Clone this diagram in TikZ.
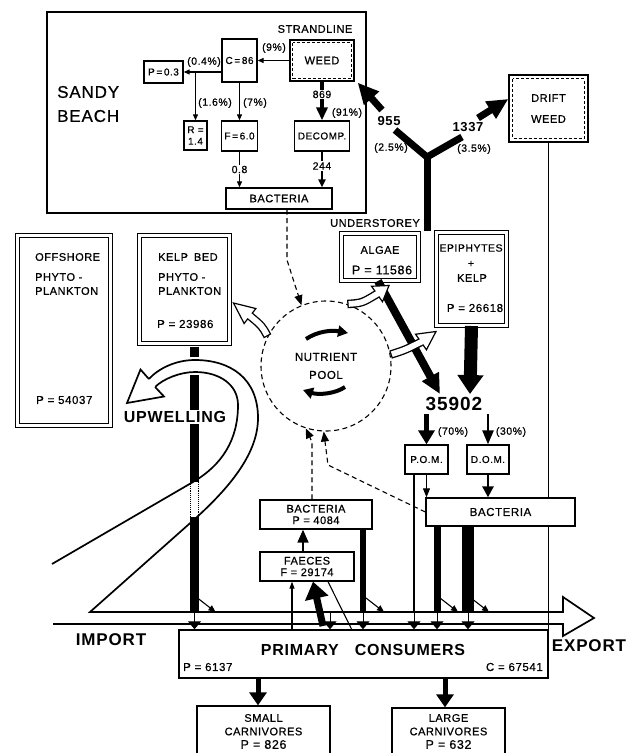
\documentclass[tikz,border=0pt]{standalone}
\usepackage{fontspec}
\setmainfont{Liberation Sans}[LetterSpace=5.0, UprightFeatures={FakeBold=0.6}]
\usetikzlibrary{arrows.meta,calc}
\newcommand{\fz}[2]{\fontsize{#1}{#2}\selectfont}
\newcommand{\hollowarr}[4]{%
  \draw[line width=8.5pt] (#1) .. controls (#2) .. (#3);
  \draw[white, line width=5.8pt, shorten <=1.3pt] (#1) .. controls (#2) .. (#3);
  \filldraw[fill=white, draw=black, line width=1.2pt] ($(#3)!9.5pt!90:(#4)$) -- (#4) -- ($(#3)!9.5pt!-90:(#4)$) -- cycle;
  \draw[white, line width=5.8pt] ($(#3)!-1.5pt!(#4)$) -- ($(#3)!1.5pt!(#4)$);
}
\begin{document}
\begin{tikzpicture}[x=1pt,y=-1pt,
  thinln/.style={line width=1.1pt},
  dsh/.style={dash pattern=on 5pt off 3.5pt},
  box/.style={draw, line width=1.3pt, inner sep=0pt, align=center, font=\fz{10}{11.5}},
  dbox/.style={draw, double, double distance=3.2pt, line width=1pt, inner sep=0pt},
  txt/.style={inner sep=0pt, align=left, font=\fz{11}{14}},
  ctxt/.style={inner sep=0pt, align=center, font=\fz{11}{14}},
  lbl/.style={inner sep=1pt, font=\fz{10.5}{12}},
  sarr/.style={thinln, -{Triangle[length=6pt,width=5pt]}},
  darr/.style={thinln, dsh, -{Triangle[length=10pt,width=8pt]}},
  yarr/.style={line width=7pt, -{Triangle[length=21pt,width=19pt]}},
  pcarr/.style={line width=5pt, -{Triangle[length=13pt,width=17pt]}},
  vtip/.style={line width=1pt, -{Triangle[length=8pt,width=13pt]}},
  dtip/.style={line width=1.1pt, -{Triangle[length=7pt,width=6pt]}},
  flowln/.style={line width=1.7pt},
  bigtxt/.style={inner sep=1pt, font=\bfseries\fz{17}{20}},
]
\useasboundingbox (0,0) rectangle (639,753);
\clip (0,0) rectangle (639,753);
\fill[white] (0,0) rectangle (639,753);

% ---------------- Sandy beach
\node[draw, line width=1.4pt, minimum width=319pt, minimum height=201pt, inner sep=0pt] (beach) at (206.5,112.5) {};
\node[txt, font=\fz{17}{24}, anchor=west] (sandy) at (57,104) {SANDY\\BEACH};
\node[inner sep=0pt, font=\fz{11}{13}] (strand) at (315,29) {STRANDLINE};
\node[box, minimum width=64pt, minimum height=41pt, font=\fz{11}{13}] (weed) at (322,60.5) {WEED};
\draw[thinln, dash pattern=on 3pt off 2pt] ([shift={(3.5pt,-3.5pt)}]weed.north west) rectangle ([shift={(-3.5pt,3.5pt)}]weed.south east);
\node[box, minimum width=35pt, minimum height=43pt] (c86) at (239.5,60.5) {C\,=\,86};
\node[box, minimum width=39pt, minimum height=22pt] (p03) at (163.5,72) {P\,=\,0.3};
\node[box, minimum width=23pt, minimum height=29pt] (r14) at (195.5,135.5) {R =\\1.4};
\node[box, minimum width=36pt, minimum height=30pt] (f60) at (239.5,136) {F\,=\,6.0};
\node[box, minimum width=55pt, minimum height=30pt] (decomp) at (322,136) {DECOMP.};
\node[box, minimum width=106pt, minimum height=21pt, font=\fz{11}{13}] (sbact) at (279,198.5) {BACTERIA};

\draw[sarr] (weed.west) -- (c86.east);
\node[lbl] (l9) at (274,48) {(9\%)};
\draw[sarr] (c86.west |- p03.east) -- (p03.east);
\node[lbl] (l04) at (204,62) {(0.4\%)};
\coordinate (br) at (r14.north |- p03.east);
\draw[sarr] (br) -- (r14.north);
\node[lbl] (l16) at (215,103) {(1.6\%)};
\draw[sarr] (c86.south) -- (f60.north);
\node[lbl] (l7) at (255,103) {(7\%)};
\draw[sarr] (f60.south) -- node[lbl, fill=white] (l08) {0.8} (f60.south |- sbact.north);
\draw[line width=3.5pt, -{Triangle[length=13pt,width=11pt]}] (weed.south) -- node[lbl, fill=white, pos=0.33] (l869) {869} (decomp.north);
\node[lbl] (l91) at (347,113) {(91\%)};
\draw[line width=2.5pt, -{Triangle[length=8pt,width=7pt]}] (decomp.south) -- node[lbl, fill=white, pos=0.4] (l244) {244} (decomp.south |- sbact.north);

% ---------------- Drift weed and Y
\node[box, minimum width=79pt, minimum height=67pt, font=\fz{11}{21}] (drift) at (548.5,108.5) {DRIFT\\WEED};
\draw[thinln, dash pattern=on 3pt off 2pt] ([shift={(4.5pt,-4.5pt)}]drift.north west) rectangle ([shift={(-4.5pt,4.5pt)}]drift.south east);

\coordinate (ystem) at (427,231);
\coordinate (fork) at (427,157);
\coordinate (yl) at (395,130);
\coordinate (yr) at (462,137);
\coordinate (yla) at (382,110);
\coordinate (yra) at (478,118);
\coordinate (tl) at ([xshift=3pt,yshift=-1pt]weed.south east);
\coordinate (tr) at ([yshift=9.5pt]drift.west);
\draw[line width=7pt] (ystem) -- (fork);
\draw[line width=7pt, line join=miter] (yl) -- (fork) -- (yr);
\draw[yarr] (yla) -- (tl);
\draw[yarr] (yra) -- (tr);
\node[inner sep=0pt, font=\bfseries\fz{13}{15}] (l955) at (389,121) {955};
\node[inner sep=0pt, font=\bfseries\fz{13}{15}] (l1337) at (468,127) {1337};
\node[lbl] (l25) at (391,148) {(2.5\%)};
\node[lbl] (l35) at (474,149) {(3.5\%)};

% ---------------- producers
\node[dbox, minimum width=93pt, minimum height=190pt] (off) at (64,330.5) {};
\node[txt, anchor=west] (off1) at (35,257) {OFFSHORE};
\node[txt, anchor=west] (off2) at (35,284) {PHYTO -\\PLANKTON};
\node[txt, anchor=west, font=\fz{11.5}{13}] (off3) at (36,400) {P = 54037};

\node[dbox, minimum width=90pt, minimum height=108pt] (kelp) at (184.5,289.5) {};
\node[txt, anchor=west] (kel1) at (158,257) {KELP\hspace{6pt}BED};
\node[txt, anchor=west] (kel2) at (158,284) {PHYTO -\\PLANKTON};
\node[txt, anchor=west, font=\fz{11.5}{13}] (kel3) at (157,324) {P = 23986};

\node[inner sep=0pt, font=\fz{11}{13}] (under) at (375,223) {UNDERSTOREY};
\node[dbox, minimum width=77pt, minimum height=47pt] (algae) at (380,257) {};
\node[ctxt] (alg1) at (380,250) {ALGAE};
\node[ctxt, font=\fz{12.5}{14}] (alg2) at (382,270) {P = 11586};

\node[dbox, minimum width=70pt, minimum height=93pt] (epi) at (471.5,279) {};
\node[ctxt, font=\fz{10.5}{14}] (epi1) at (471,248) {EPIPHYTES};
\node[ctxt] (epi2) at (471,264) {+};
\node[ctxt] (epi3) at (472,278) {KELP};
\node[ctxt, font=\fz{11.5}{13}] (epi4) at (475,308) {P = 26618};

% ---------------- nutrient pool
\node[circle, draw, thinln, dsh, minimum size=130pt, inner sep=0pt, align=center, font=\fz{11.5}{18}] (pool) at (326,366) {NUTRIENT\\POOL};
\draw[line width=4pt, -{Triangle[length=10pt,width=11pt]}] (306,339) .. controls (318,331) and (332,330) .. (348,333);
\draw[line width=4pt, -{Triangle[length=10pt,width=11pt]}] (345,387) .. controls (335,394) and (318,395) .. (303,390);

% ---------------- 35902 and detritus
\node[inner sep=3pt, font=\bfseries\fz{19}{21}] (n35902) at (454,404) {35902};
\draw[line width=8pt, -{Triangle[length=20pt,width=18pt]}] ([xshift=-2pt]algae.south) -- ([xshift=-14pt]n35902.north);
\draw[line width=13pt, -{Triangle[length=19pt,width=25pt]}] (epi.south) -- ([xshift=16pt]n35902.north);

\node[box, minimum width=43pt, minimum height=29pt] (pom) at (426.5,459.5) {P.O.M.};
\node[box, minimum width=42pt, minimum height=29pt] (dom) at (488,459.5) {D.O.M.};
\draw[line width=5.5pt, -{Triangle[length=14pt,width=16pt]}] (n35902.south -| pom.north) -- (pom.north);
\draw[line width=2.5pt, -{Triangle[length=14pt,width=11pt]}] (n35902.south -| dom.north) -- (dom.north);
\node[lbl] (l70) at (453,432) {(70\%)};
\node[lbl] (l30) at (511,432) {(30\%)};

\node[box, minimum width=149pt, minimum height=28pt, font=\fz{11.5}{13}] (rbact) at (500.5,512) {BACTERIA};
\draw[thinln, -{Triangle[length=9pt,width=7pt]}] (pom.south) -- (pom.south |- rbact.north);
\draw[line width=2.5pt, -{Triangle[length=11pt,width=11pt]}] (dom.south) -- (dom.south |- rbact.north);
\draw[thinln] (drift.south) -- (drift.south |- rbact.north);

\node[box, minimum width=112pt, minimum height=29pt, font=\fz{11}{11.5}] (b4084) at (316,514.5) {BACTERIA\\P = 4084};
\node[box, minimum width=94pt, minimum height=29pt, font=\fz{11}{11.5}] (faeces) at (307,566.5) {FAECES\\F = 29174};
\draw[line width=1.5pt, -{Triangle[length=13pt,width=11pt]}] ([xshift=-4pt]faeces.north) -- ([xshift=-4pt]faeces.north |- b4084.south);

% dashed returns to pool
\draw[darr] ([xshift=8pt]sbact.south) -- (287,260) -- (pool.112);
\draw[darr] ([xshift=-4pt]b4084.north) -- (312,442) -- (pool.252);
\draw[darr] (rbact.west) -- (328,465) -- (pool.268);

% ---------------- primary consumers
\node[draw, line width=1.4pt, minimum width=369pt, minimum height=48pt, inner sep=0pt] (pc) at (363.5,654) {};
\node[bigtxt, font=\bfseries\fz{16}{18}] (pct) at (363,650) {PRIMARY\hspace{16pt}CONSUMERS};
\node[inner sep=0pt, anchor=west, font=\fz{11.5}{13}] (pcp) at (183,667) {P = 6137};
\node[inner sep=0pt, anchor=east, font=\fz{11.5}{13}] (pcc) at (543,667) {C = 67541};

\node[draw, line width=1.3pt, minimum width=133pt, minimum height=64pt, inner sep=0pt] (sc) at (263.5,738) {};
\node[ctxt, font=\fz{11}{13.5}] (sct) at (263.5,731.5) {SMALL\\CARNIVORES\\{\fz{12.5}{13.5}P = 826}};
\node[draw, line width=1.3pt, minimum width=113pt, minimum height=62pt, inner sep=0pt] (lc) at (448.5,739) {};
\node[ctxt, font=\fz{11}{13.5}] (lct) at (448.5,731.5) {LARGE\\CARNIVORES\\{\fz{12.5}{13.5}P = 632}};
\draw[pcarr] ([xshift=-5.5pt]sc.north |- pc.south) -- ([xshift=-5.5pt]sc.north);
\draw[pcarr] ([xshift=-3.5pt]lc.north |- pc.south) -- ([xshift=-3.5pt]lc.north);

% ---------------- bars into the flow
\coordinate (kb) at (194.5,612);
\coordinate (bb) at (363,612);
\coordinate (rb1) at (437,612);
\coordinate (rb2) at (468,612);
\coordinate (v2) at (330,612);
\coordinate (pomx) at (414,612);
\draw[line width=9pt] ([xshift=10pt,yshift=-2.5pt]kelp.south) -- (194.5,357);
\draw[line width=9pt] (194.5,375) -- (194.5,482);
\draw[thinln, densely dotted] (190.5,482) -- (190.5,517) (198.5,482) -- (198.5,517);
\draw[line width=9pt] (194.5,517) -- (kb);
\draw[line width=6.5pt] (b4084.south -| bb) -- (bb);
\draw[line width=7pt] (rbact.south -| rb1) -- (rb1);
\draw[line width=12pt] (rbact.south -| rb2) -- (rb2);
\draw[thinln] ([xshift=-12.5pt]pom.south) -- (pomx);
\draw[thinln] (rbact.south -| pc.north east) -- (pc.north east);

% faeces links
\coordinate (fa1) at (323,626);
\coordinate (dg) at (352,630);
\draw[line width=7pt, -{Triangle[length=17pt,width=23pt]}] (fa1) -- ([xshift=6pt]faeces.south);
\draw[thinln, -{Triangle[length=7pt,width=5pt]}] ([xshift=-15pt]faeces.south |- pc.north) -- ([xshift=-15pt]faeces.south);
\draw[thinln] ([xshift=21pt]faeces.south) -- (dg);

% ---------------- flow and upwelling
\draw[flowln] (53,624) -- (563,624) -- (563,636) -- (594,618) -- (563,597) -- (563,612) -- (90,612) -- (197,517)
  .. controls (232,485) and (258,452) .. (258,418) .. controls (258,378) and (230,360) .. (195,360)
  .. controls (175,360) and (158,369) .. (148.9,379);
\draw[flowln] (52,564) -- (193,482) .. controls (222,465) and (238,440) .. (238,405)
  .. controls (238,385) and (220,372) .. (195,372) .. controls (180,372) and (163,379) .. (155.1,387);
\filldraw[fill=white, flowln] (148.9,379) -- (140.5,369.5) -- (127,403) -- (164,396.5) -- (155.1,387);
\node[bigtxt, fill=white, font=\bfseries\fz{16}{18}] (upw) at (175,417) {UPWELLING};
\node[bigtxt] (imp) at (111,640) {IMPORT};
\node[bigtxt] (exp) at (589,646) {EXPORT};

% small tips at the flow
\foreach \c in {kb,v2,bb,pomx,rb1,rb2} {\draw[vtip] (\c) -- (\c |- pc.north);}
\foreach \c in {kb,bb,rb1,rb2} {\draw[dtip] ($(\c)+(3,-14)$) -- ($(\c)+(21,0)$);}

% ---------------- hollow arrows from the pool
\coordinate (b1) at (250,316);
\coordinate (t1) at ([xshift=3.5pt,yshift=-13.5pt]kelp.east);
\coordinate (b2) at (377,294);
\coordinate (t2) at ([xshift=9pt,yshift=-4.5pt]algae.south);
\coordinate (b3) at (421,342);
\coordinate (t3) at ([yshift=-5.5pt]epi.south west);
\hollowarr{pool.153}{262,326}{b1}{t1}
\hollowarr{pool.71}{362,303}{b2}{t2}
\hollowarr{pool.10}{405,350}{b3}{t3}
\end{tikzpicture}
\end{document}
